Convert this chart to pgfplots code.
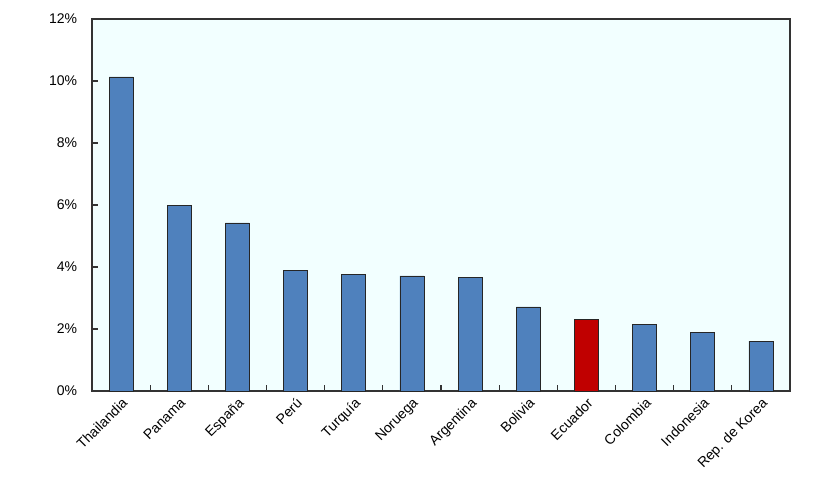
\documentclass[border=0pt]{standalone}
\usepackage{fontspec}
\setmainfont{Liberation Sans}
\usepackage{pgfplots}
\pgfplotsset{compat=1.18}
\definecolor{barblue}{HTML}{4F81BD}
\definecolor{barred}{HTML}{C00000}
\definecolor{bgcyan}{HTML}{F2FFFF}
\begin{document}
\begin{tikzpicture}
\useasboundingbox (-69pt,-72pt) rectangle (556.5pt,293.25pt);
\begin{axis}[
  at={(0pt,0pt)}, anchor=south west,
  scale only axis, width=523.5pt, height=279pt,
  xmin=-0.5, xmax=11.5, ymin=0, ymax=12,
  axis background/.style={fill=bgcyan},
  axis line style={draw=black!80, line width=1pt},
  font=\fontsize{10.5}{12}\selectfont,
  /pgf/number format/assume math mode=true,
  xtick={0.5,1.5,...,10.5},
  xticklabels={},
  extra x ticks={0,...,11},
  extra x tick labels={Thailandia,Panama,España,Perú,Turquía,Noruega,Argentina,Bolivia,Ecuador,Colombia,Indonesia,Rep. de Korea},
  extra x tick style={major tick length=0pt, tick style={draw=none},
    tick label style={rotate=45, anchor=north east, inner sep=1pt, yshift=-2pt, xshift=-2pt}},
  ytick={0,2,...,12},
  yticklabel={\pgfmathprintnumber{\tick}\%},
  y tick label style={anchor=east, inner sep=0pt, xshift=-11pt},
  major tick length=4.5pt,
  tick style={draw=black!80, line width=0.8pt},
  x tick style={yshift=4.5pt},
  xtick pos=bottom, ytick pos=left,
  tick align=inside,
  ybar, bar width=18pt, bar shift=0pt,
  clip=false,
]
\addplot[fill=barblue, draw=black!85, line width=0.6pt] coordinates {
 (0,10.13) (1,6.00) (2,5.42) (3,3.90) (4,3.77) (5,3.71) (6,3.65) (7,2.71) (9,2.16) (10,1.89) (11,1.61)};
\addplot[fill=barred, draw=black!85, line width=0.6pt] coordinates {(8,2.31)};
\end{axis}
\end{tikzpicture}
\end{document}
